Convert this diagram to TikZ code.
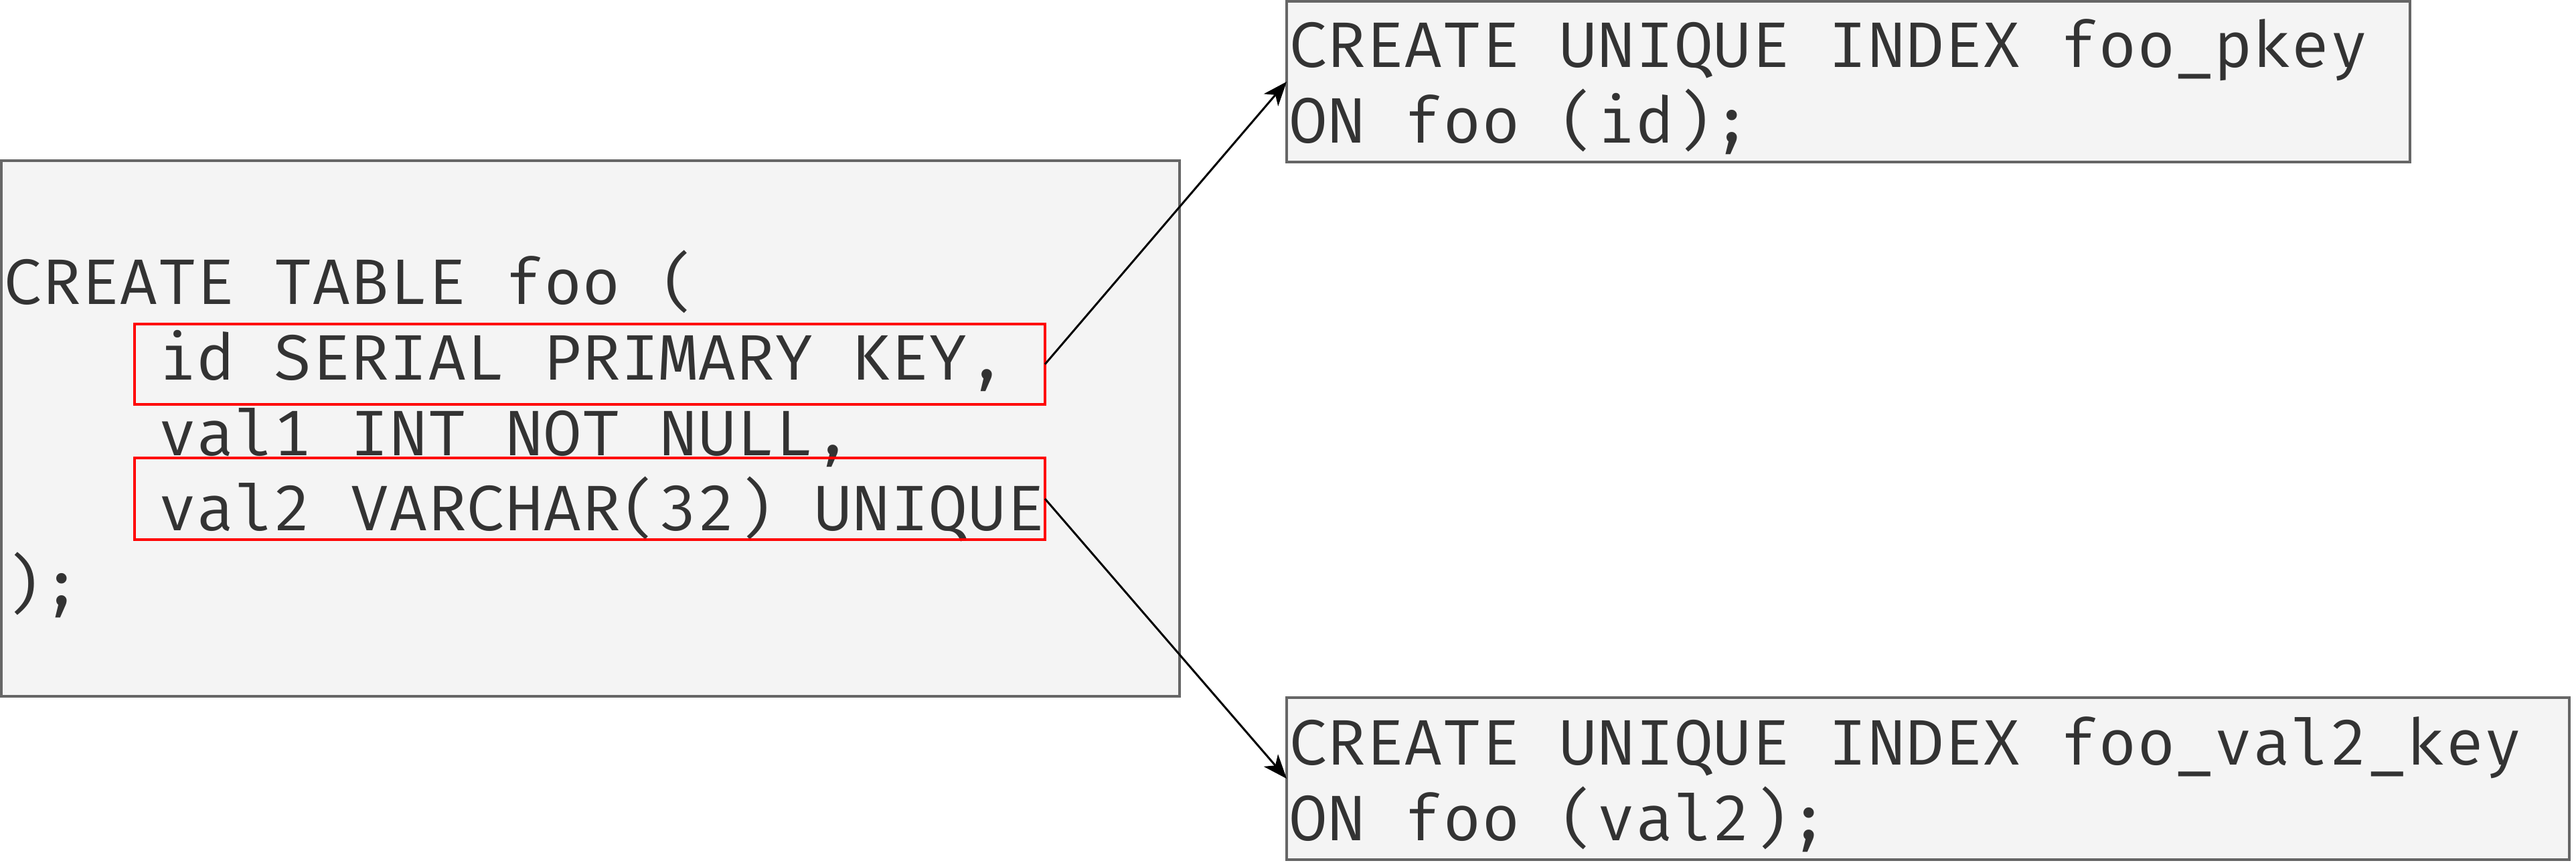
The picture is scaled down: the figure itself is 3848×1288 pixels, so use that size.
\documentclass[tikz,border=0pt]{standalone}
\usepackage{fontspec}
\setmonofont{Fira Mono}
\usetikzlibrary{arrows.meta}
\definecolor{boxfill}{HTML}{F4F4F4}
\definecolor{boxline}{HTML}{666666}
\definecolor{txt}{HTML}{333333}
\definecolor{hl}{HTML}{FF0000}
\tikzset{
  codebox/.style={draw=boxline, fill=boxfill, line width=0.9pt, inner sep=0pt, outer sep=0pt},
  hlbox/.style={draw=hl, line width=0.9pt, inner sep=0pt, outer sep=0pt},
  code/.style={anchor=base west, inner sep=0pt, outer sep=0pt, text=txt, font=\ttfamily\fontsize{24}{28}\selectfont},
  link/.style={line width=0.75pt, -{Stealth[length=9pt, width=7pt, inset=2.5pt]}}
}
\begin{document}
\begin{tikzpicture}[x=0.25pt, y=-0.25pt]
\useasboundingbox (0,0) rectangle (3848,1288);
% boxes
\node[codebox, minimum width=440pt, minimum height=200pt] (tbl) at (882,640) {};
\node[codebox, minimum width=419.5pt, minimum height=60pt] (idx1) at (2761,122) {};
\node[codebox, minimum width=479pt, minimum height=60.5pt] (idx2) at (2880,1163) {};
% left code
\node[code] (l1) at (6,454) {CREATE TABLE foo (};
\node[code] (l2) at (236,567) {id SERIAL PRIMARY KEY,};
\node[code] (l3) at (236,680) {val1 INT NOT NULL,};
\node[code] (l4) at (236,792) {val2 VARCHAR(32) UNIQUE};
\node[code] (l5) at (6,905) {);};
% right code
\node[code] (a1) at (1925,100) {CREATE UNIQUE INDEX foo\_pkey};
\node[code] (a2) at (1925,213) {ON foo (id);};
\node[code] (b1) at (1925,1142) {CREATE UNIQUE INDEX foo\_val2\_key};
\node[code] (b2) at (1925,1255) {ON foo (val2);};
% highlight boxes
\node[hlbox, minimum width=340pt, minimum height=30pt] (r1) at (881,544) {};
\node[hlbox, minimum width=340pt, minimum height=30.5pt] (r2) at (881,745) {};
% connectors
\draw[link] (r1.east) -- (idx1.west);
\draw[link] (r2.east) -- (idx2.west);
\end{tikzpicture}
\end{document}
